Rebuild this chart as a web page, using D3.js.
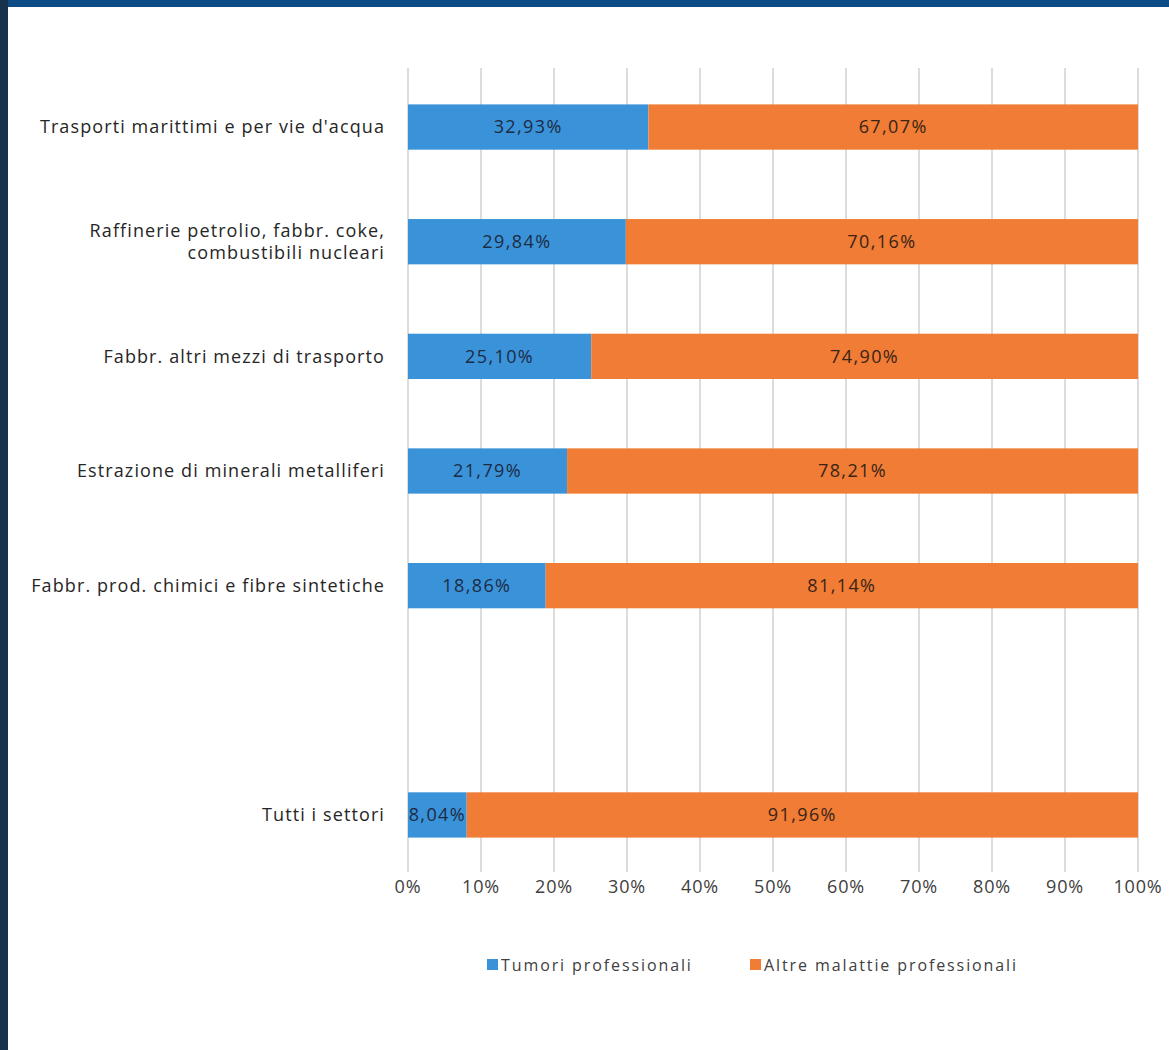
<!DOCTYPE html>
<html>
<head>
  <meta charset="utf-8">
  <title>Tumori professionali per settore</title>
  <script src="https://cdn.jsdelivr.net/npm/d3@7"></script>
  <style>
    body { margin: 0; background: #fff; }
    svg text { font-family: "Open Sans", sans-serif; }
    .grid line { stroke: #c9c9c9; stroke-width: 1.3px; }
  </style>
</head>
<body>
<svg id="chart" width="1169" height="1050"></svg>

<script>
  // categories (empty slot left in the chart between the sectors and the total)
  var categories = [
    'Trasporti marittimi e per vie d\'acqua',
    'Raffinerie petrolio, fabbr. coke,|combustibili nucleari',
    'Fabbr. altri mezzi di trasporto',
    'Estrazione di minerali metalliferi',
    'Fabbr. prod. chimici e fibre sintetiche',
    '',
    'Tutti i settori'
  ];
  var tumori = [32.93, 29.84, 25.10, 21.79, 18.86, null, 8.04];
  var altre = [67.07, 70.16, 74.90, 78.21, 81.14, null, 91.96];
  var seriesNames = ['Tumori professionali', 'Altre malattie professionali'];
  var ticks = [0, 10, 20, 30, 40, 50, 60, 70, 80, 90, 100];

  var colors = { blue: '#3a93d8', orange: '#f07c35' };

  var svg = d3.select('#chart');

  // frame: dark blue strip on top, dark line on the left
  svg.append('rect').attr('x', 0).attr('y', 0).attr('width', 1169).attr('height', 7).attr('fill', '#0d4b87');
  svg.append('rect').attr('x', 0).attr('y', 0).attr('width', 8).attr('height', 1050).attr('fill', '#17324b');

  var x = d3.scaleLinear().domain([0, 100]).range([408, 1138]);
  var y = d3.scaleBand().domain(d3.range(categories.length)).range([70, 872]).paddingInner(0.605).paddingOuter(0.3);

  // gridlines
  svg.append('g').attr('class', 'grid')
    .selectAll('line')
    .data(ticks)
    .enter()
    .append('line')
    .attr('x1', d => x(d)).attr('x2', d => x(d))
    .attr('y1', 68).attr('y2', 872);

  // x axis labels
  svg.append('g')
    .selectAll('text')
    .data(ticks)
    .enter()
    .append('text')
    .attr('x', d => x(d))
    .attr('y', 893)
    .attr('text-anchor', 'middle')
    .attr('font-size', 18)
    .attr('letter-spacing', 0.8)
    .attr('fill', '#404040')
    .text(d => d + '%');

  // category labels
  var lab = svg.append('g')
    .selectAll('text')
    .data(categories)
    .enter()
    .append('text')
    .attr('x', 385)
    .attr('y', (d, i) => y(i) + y.bandwidth() / 2)
    .attr('text-anchor', 'end')
    .attr('font-size', 18)
    .attr('letter-spacing', 1.1)
    .attr('fill', '#262626');

  lab.each(function (d) {
    var lines = d.split('|');
    var t = d3.select(this);
    lines.forEach((s, k) => {
      t.append('tspan')
        .attr('x', 385)
        .attr('dy', k == 0 ? (lines.length == 1 ? '0.35em' : (0.35 - 0.62) + 'em') : '1.24em')
        .text(s);
    });
  });

  // stacked bars
  var rows = categories.map((c, i) => ({ i: i, a: tumori[i], b: altre[i] })).filter(d => d.a != null);

  var fmt = v => v.toFixed(2).replace('.', ',') + '%';

  var g = svg.append('g');
  g.selectAll('.tum')
    .data(rows)
    .enter()
    .append('rect')
    .attr('x', x(0))
    .attr('y', d => y(d.i))
    .attr('width', d => x(d.a) - x(0))
    .attr('height', y.bandwidth())
    .attr('fill', colors.blue);

  g.selectAll('.alt')
    .data(rows)
    .enter()
    .append('rect')
    .attr('x', d => x(d.a))
    .attr('y', d => y(d.i))
    .attr('width', d => x(d.a + d.b) - x(d.a))
    .attr('height', y.bandwidth())
    .attr('fill', colors.orange);

  // value labels
  g.selectAll('.lt')
    .data(rows)
    .enter()
    .append('text')
    .attr('x', d => x(d.a / 2))
    .attr('y', d => y(d.i) + y.bandwidth() / 2)
    .attr('dy', '0.35em')
    .attr('text-anchor', 'middle')
    .attr('font-size', 18)
    .attr('letter-spacing', 1.4)
    .attr('fill', '#1d2b45')
    .text(d => fmt(d.a));

  g.selectAll('.lb')
    .data(rows)
    .enter()
    .append('text')
    .attr('x', d => x(d.a + d.b / 2))
    .attr('y', d => y(d.i) + y.bandwidth() / 2)
    .attr('dy', '0.35em')
    .attr('text-anchor', 'middle')
    .attr('font-size', 18)
    .attr('letter-spacing', 1.4)
    .attr('fill', '#3a2415')
    .text(d => fmt(d.b));

  // legend
  var legX = [487, 750];
  var legCol = [colors.blue, colors.orange];
  var leg = svg.append('g').selectAll('g')
    .data(seriesNames)
    .enter()
    .append('g')
    .attr('transform', (d, i) => 'translate(' + legX[i] + ',965)');
  leg.append('rect').attr('x', 0).attr('y', -6).attr('width', 11).attr('height', 11).attr('fill', (d, i) => legCol[i]);
  leg.append('text').attr('x', 14).attr('dy', '0.35em').attr('font-size', 16).attr('letter-spacing', 1.9).attr('fill', '#404040').text(d => d);
</script>
</body>
</html>
